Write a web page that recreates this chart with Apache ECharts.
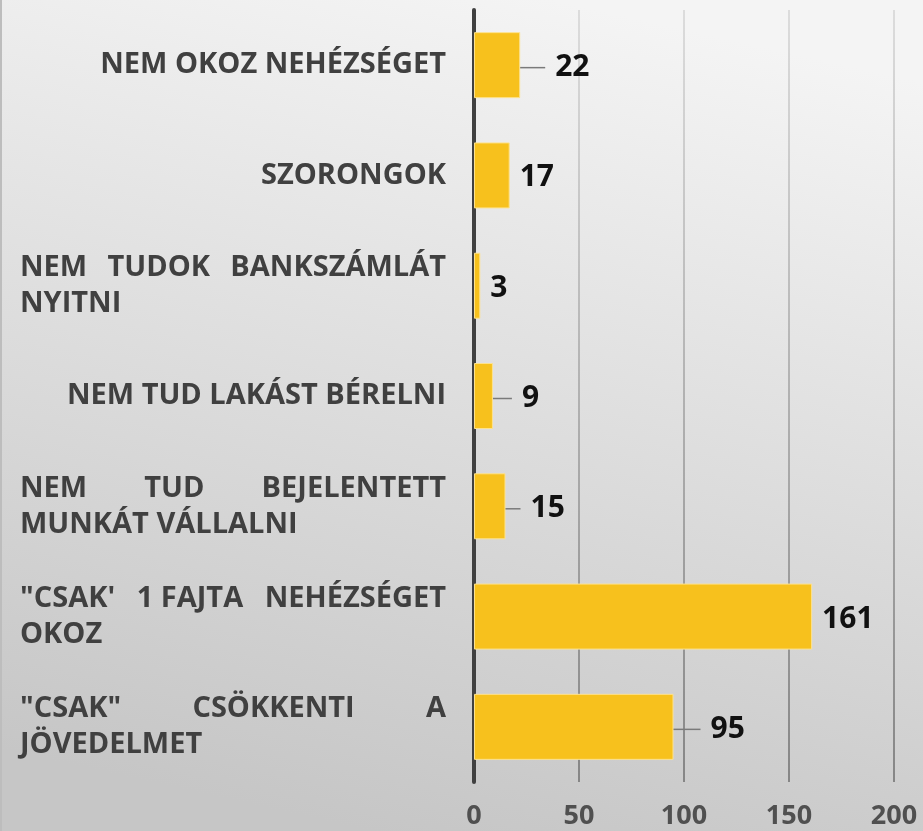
<!DOCTYPE html>
<html>
<head>
<meta charset="utf-8">
<style>
  html, body { margin: 0; padding: 0; }
  #barChart { width: 923px; height: 831px; }
</style>
<script src="https://cdn.jsdelivr.net/npm/echarts@6/dist/echarts.min.js"></script>
</head>
<body>
<div id="barChart"></div>
<script>
  // kategóriák (felülről lefelé)
  var categories = [
    'NEM OKOZ NEHÉZSÉGET',
    'SZORONGOK',
    'NEM TUDOK BANKSZÁMLÁT\nNYITNI',
    'NEM TUD LAKÁST BÉRELNI',
    'NEM TUD BEJELENTETT\nMUNKÁT VÁLLALNI',
    '"CSAK\' 1 FAJTA NEHÉZSÉGET\nOKOZ',
    '"CSAK" CSÖKKENTI A\nJÖVEDELMET'
  ];
  var values = [22, 17, 3, 9, 15, 161, 95];
  var xTicks = [0, 50, 100, 150, 200];

  // címke eltolás (vezetővonalhoz)
  var labelShift = [25, 0, 0, 19, 15, 0, 27];

  var fontFamily = '"Open Sans", "DejaVu Sans", sans-serif';
  var labelFont = {fontFamily: fontFamily, fontWeight: 'bold', fontSize: 29, color: '#404040', lineHeight: 36};

  //sorkizárt kategória címkék
  function formatCategory(name) {
    var lines = name.split('\n');
    if (lines.length === 1) return '{r|' + name + '}';
    var words = lines[0].split(' ');
    var mid = words.slice(1, -1).join(' ');
    return '{l|' + words[0] + '}' + (mid ? '{c|' + mid + '}' : '') +
      '{r|' + words[words.length - 1] + '}\n{l|' + lines[1] + '}';
  }

  var seriesData = values.map(function (v, i) {
    return {value: v, labelLine: {show: labelShift[i] > 0}};
  });

  var options = {
    backgroundColor: {
      type: 'linear', x: 0.6, y: 0, x2: 0.4, y2: 1,
      colorStops: [{offset: 0, color: '#f4f4f4'}, {offset: 1, color: '#c6c6c6'}]
    },
    animation: false,
    grid: {left: 474, right: 29, top: 10, bottom: 49},
    xAxis: {
      type: 'value',
      min: xTicks[0],
      max: xTicks[xTicks.length - 1],
      interval: 50,
      axisLine: {show: false},
      axisTick: {show: false},
      axisLabel: {
        margin: 21,
        fontFamily: fontFamily, fontWeight: 'bold', fontSize: 27, color: '#505050'
      },
      splitLine: {
        show: true,
        lineStyle: {
          width: 2,
          color: {
            type: 'linear', x: 0, y: 10, x2: 0, y2: 782, global: true,
            colorStops: [{offset: 0, color: '#dcdcdc'}, {offset: 1, color: '#868686'}]
          }
        }
      }
    },
    yAxis: {
      type: 'category',
      inverse: true,
      data: categories,
      axisLine: {show: true, lineStyle: {color: '#404040', width: 4}},
      axisTick: {show: false},
      axisLabel: {
        interval: 0,
        margin: 28,
        width: 426,
        overflow: 'none',
        formatter: formatCategory,
        rich: {
          l: Object.assign({align: 'left'}, labelFont),
          c: Object.assign({align: 'center'}, labelFont),
          r: Object.assign({align: 'right'}, labelFont)
        }
      }
    },
    series: [{
      type: 'bar',
      data: seriesData,
      barWidth: 66,
      itemStyle: {color: '#f7c11d', borderColor: '#fde28e', borderWidth: 1},
      label: {
        show: true,
        position: 'right',
        distance: 0,
        padding: [5, 0, 0, 0],
        formatter: '{g|}{v|{c}}',
        rich: {
          g: {width: 10},
          v: {fontFamily: fontFamily, fontWeight: 'bold', fontSize: 30, color: '#111'}
        }
      },
      labelLine: {lineStyle: {color: '#7a7a7a', width: 1.5}},
      labelLayout: function (params) {
        return {dx: labelShift[params.dataIndex]};
      }
    }],
    graphic: [{
      type: 'rect', left: 0, top: 0,
      shape: {width: 2, height: 831},
      style: {fill: '#bdbdbd'}
    }]
  };

  var barChart = echarts.init(document.getElementById('barChart'));
  barChart.setOption(options);
</script>
</body>
</html>
